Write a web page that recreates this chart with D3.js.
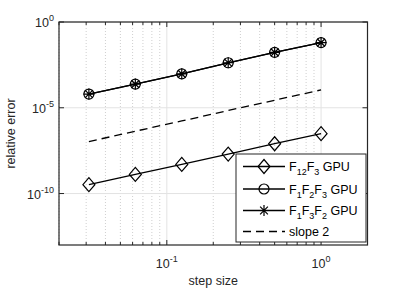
<!DOCTYPE html>
<html lang="en">
<head>
    <meta charset="UTF-8">
    <title>Relative error vs step size</title>
    <script src="https://d3js.org/d3.v7.min.js"></script>
    <style>
        body { margin: 0; background: #fff; }
        text { font-family: "Liberation Sans", Arial, sans-serif; }
    </style>
</head>
<body>
    <script>
        // data
        var stepSizes = [1/32, 1/16, 1/8, 1/4, 1/2, 1];
        var errF12F3 = [3.3e-10, 1.3e-9, 5.0e-9, 2.0e-8, 8.0e-8, 3.1e-7];
        var errF1F2F3 = [6.3e-5, 2.4e-4, 9.5e-4, 4.2e-3, 1.7e-2, 6.3e-2];
        var errF1F3F2 = [6.3e-5, 2.4e-4, 9.5e-4, 4.2e-3, 1.7e-2, 6.3e-2];
        var slope2 = [1.07e-7, 4.3e-7, 1.7e-6, 6.9e-6, 2.75e-5, 1.1e-4];
        var xTickLabels = [["10", "-1"], ["10", "0"]];
        var yTickLabels = [["10", "0"], ["10", "-5"], ["10", "-10"]];

        var w = 407, h = 290;
        var mL = 59, mR = 367.5, mT = 22, mB = 245;

        var x = d3.scaleLog().domain([0.02, 2]).range([mL, mR]);
        var y = d3.scaleLog().domain([1e-13, 1]).range([mB, mT]);

        var svg = d3.select("body").append("svg")
                    .attr("width", w).attr("height", h);

        var xMajor = [0.1, 1];
        var xMinor = [];
        [0.01, 0.1, 1].forEach(function(d) {
            for (var k = 2; k <= 9; k++) {
                var v = d * k;
                if (v >= 0.02 && v <= 2) xMinor.push(v);
            }
        });
        var yMajor = [1, 1e-5, 1e-10];

        // grid
        svg.append("g").selectAll("line").data(xMinor).join("line")
            .attr("x1", d => x(d)).attr("x2", d => x(d))
            .attr("y1", mT).attr("y2", mB)
            .attr("stroke", "#cfcfcf").attr("stroke-width", 1)
            .attr("stroke-dasharray", "1,2");
        svg.append("g").selectAll("line").data(xMajor).join("line")
            .attr("x1", d => x(d)).attr("x2", d => x(d))
            .attr("y1", mT).attr("y2", mB)
            .attr("stroke", "#e3e3e3").attr("stroke-width", 1);
        svg.append("g").selectAll("line").data(yMajor).join("line")
            .attr("x1", mL).attr("x2", mR)
            .attr("y1", d => y(d)).attr("y2", d => y(d))
            .attr("stroke", "#e3e3e3").attr("stroke-width", 1);

        // ticks (inward, all four sides)
        var tickColor = "#262626";
        var ticks = svg.append("g").attr("stroke", tickColor).attr("stroke-width", 1);
        xMinor.forEach(function(d) {
            ticks.append("line").attr("x1", x(d)).attr("x2", x(d)).attr("y1", mB).attr("y2", mB - 3);
            ticks.append("line").attr("x1", x(d)).attr("x2", x(d)).attr("y1", mT).attr("y2", mT + 3);
        });
        xMajor.forEach(function(d) {
            ticks.append("line").attr("x1", x(d)).attr("x2", x(d)).attr("y1", mB).attr("y2", mB - 5);
            ticks.append("line").attr("x1", x(d)).attr("x2", x(d)).attr("y1", mT).attr("y2", mT + 5);
        });
        yMajor.forEach(function(d) {
            ticks.append("line").attr("x1", mL).attr("x2", mL + 5).attr("y1", y(d)).attr("y2", y(d));
            ticks.append("line").attr("x1", mR).attr("x2", mR - 5).attr("y1", y(d)).attr("y2", y(d));
        });

        // box
        svg.append("rect")
            .attr("x", mL).attr("y", mT)
            .attr("width", mR - mL).attr("height", mB - mT)
            .attr("fill", "none").attr("stroke", tickColor).attr("stroke-width", 1.2);

        // tick labels
        xMajor.forEach(function(d, i) {
            var t = svg.append("text").attr("x", x(d)).attr("y", mB + 23)
                .attr("text-anchor", "middle").attr("fill", tickColor).attr("font-size", 12.5);
            t.append("tspan").text(xTickLabels[i][0]);
            t.append("tspan").attr("dy", -6).attr("font-size", 9).text(xTickLabels[i][1]);
        });
        yMajor.forEach(function(d, i) {
            var t = svg.append("text").attr("x", mL - 5).attr("y", y(d) + 5)
                .attr("text-anchor", "end").attr("fill", tickColor).attr("font-size", 12.5);
            t.append("tspan").text(yTickLabels[i][0]);
            t.append("tspan").attr("dy", -6).attr("font-size", 9).text(yTickLabels[i][1]);
        });

        // axis labels
        svg.append("text").attr("x", (mL + mR) / 2).attr("y", 285)
            .attr("text-anchor", "middle").attr("fill", tickColor).attr("font-size", 12.5)
            .text("step size");
        svg.append("text")
            .attr("transform", "translate(15," + ((mT + mB) / 2) + ") rotate(-90)")
            .attr("text-anchor", "middle").attr("fill", tickColor).attr("font-size", 12.5)
            .text("relative error");

        // markers
        function diamond(g, cx, cy) {
            g.append("path")
                .attr("d", "M" + cx + "," + (cy - 7) + "L" + (cx + 6) + "," + cy + "L" + cx + "," + (cy + 7) + "L" + (cx - 6) + "," + cy + "Z")
                .attr("fill", "none").attr("stroke", "#000").attr("stroke-width", 1.2);
        }
        function circle(g, cx, cy) {
            g.append("circle").attr("cx", cx).attr("cy", cy).attr("r", 5)
                .attr("fill", "none").attr("stroke", "#000").attr("stroke-width", 1.2);
        }
        function star(g, cx, cy) {
            var r = 5.5, d = "";
            [0, 45, 90, 135].forEach(function(a) {
                var rad = a * Math.PI / 180;
                d += "M" + (cx - r * Math.cos(rad)) + "," + (cy - r * Math.sin(rad)) +
                     "L" + (cx + r * Math.cos(rad)) + "," + (cy + r * Math.sin(rad));
            });
            g.append("path").attr("d", d).attr("stroke", "#000").attr("stroke-width", 1.2);
        }

        var line = d3.line().x(d => x(d[0])).y(d => y(d[1]));
        var series = [
            { vals: errF12F3, marker: diamond },
            { vals: errF1F2F3, marker: circle },
            { vals: errF1F3F2, marker: star }
        ];
        var plot = svg.append("g");
        series.forEach(function(s) {
            var pts = stepSizes.map((d, i) => [d, s.vals[i]]);
            plot.append("path").attr("d", line(pts))
                .attr("fill", "none").attr("stroke", "#000").attr("stroke-width", 1.3);
            pts.forEach(p => s.marker(plot, x(p[0]), y(p[1])));
        });
        plot.append("path").attr("d", line(stepSizes.map((d, i) => [d, slope2[i]])))
            .attr("fill", "none").attr("stroke", "#000").attr("stroke-width", 1.3)
            .attr("stroke-dasharray", "8,5");

        // legend
        var lg = svg.append("g");
        lg.append("rect").attr("x", 236).attr("y", 154).attr("width", 130).attr("height", 88)
            .attr("fill", "#fff").attr("stroke", tickColor).attr("stroke-width", 1);
        var entries = [
            { parts: [["F", 0], ["12", 1], ["F", 0], ["3", 1], [" GPU", 0]], marker: diamond },
            { parts: [["F", 0], ["1", 1], ["F", 0], ["2", 1], ["F", 0], ["3", 1], [" GPU", 0]], marker: circle },
            { parts: [["F", 0], ["1", 1], ["F", 0], ["3", 1], ["F", 0], ["2", 1], [" GPU", 0]], marker: star },
            { parts: [["slope 2", 0]], marker: null }
        ];
        var rowY = [166.5, 189, 210.5, 231.5];
        entries.forEach(function(e, i) {
            var yy = rowY[i];
            var ln = lg.append("line").attr("x1", 243).attr("x2", 285).attr("y1", yy).attr("y2", yy)
                .attr("stroke", "#000").attr("stroke-width", 1.3);
            if (e.marker) e.marker(lg, 264, yy);
            else ln.attr("stroke-dasharray", "8,5");
            var t = lg.append("text").attr("x", 289).attr("y", yy + 4.5)
                .attr("fill", "#000").attr("font-size", 12.5);
            var sub = false;
            e.parts.forEach(function(p) {
                var ts = t.append("tspan").text(p[0]);
                if (p[1] && !sub) { ts.attr("dy", 4).attr("font-size", 9); sub = true; }
                else if (p[1]) { ts.attr("font-size", 9); }
                else if (sub) { ts.attr("dy", -4); sub = false; }
            });
        });
    </script>
</body>
</html>
